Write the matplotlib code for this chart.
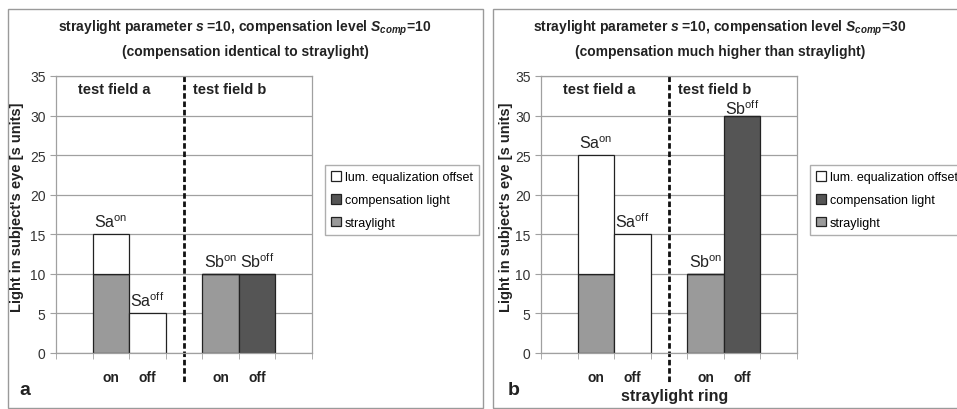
import matplotlib
matplotlib.use("Agg")
import matplotlib.pyplot as plt
from matplotlib.patches import Rectangle, Patch

plt.rcParams["font.family"] = ["Liberation Sans", "DejaVu Sans"]
plt.rcParams["mathtext.fontset"] = "custom"
plt.rcParams["mathtext.it"] = "Liberation Sans:italic:bold"
plt.rcParams["mathtext.rm"] = "Liberation Sans:bold"

# slots: blank, on, off, blank, on, off, blank
slot_labels = ["", "on", "off", "", "on", "off", ""]
bar_slots = [1, 2, 4, 5]
bar_names = ["Sa", "Sa", "Sb", "Sb"]
bar_states = ["on", "off", "on", "off"]

straylight_a = [10, 0, 10, 0]
compensation_a = [0, 0, 0, 10]
offset_a = [5, 5, 0, 0]

straylight_b = [10, 0, 10, 0]
compensation_b = [0, 0, 0, 30]
offset_b = [15, 15, 0, 0]

titles = [
    "straylight parameter $\\mathit{s}$ =10, compensation level $\\mathit{S}_{\\mathit{comp}}$=10\n(compensation identical to straylight)",
    "straylight parameter $\\mathit{s}$ =10, compensation level $\\mathit{S}_{\\mathit{comp}}$=30\n(compensation much higher than straylight)",
]
legend_labels = ["lum. equalization offset", "compensation light", "straylight"]

W, H = 957, 410
c_stray = "#9a9a9a"
c_comp = "#555555"
c_off = "white"
c_edge = "#222222"
c_grid = "#a0a0a0"

fig = plt.figure(figsize=(W / 100, H / 100), dpi=100)
fig.patch.set_facecolor("white")


def fx(px):
    return px / W


def fy(py):
    return 1 - py / H


# panel frames
for x0, x1 in [(8, 483), (493, 960)]:
    fig.patches.append(Rectangle((fx(x0), fy(409)), fx(x1 - x0), (409 - 10) / H,
                                 transform=fig.transFigure, fill=False,
                                 edgecolor="#9a9a9a", linewidth=1.0))

panels = [
    (56, straylight_a, compensation_a, offset_a, titles[0], "a", 245, 17, 325),
    (541, straylight_b, compensation_b, offset_b, titles[1], "b", 720, 506, 810),
]

for i, (left, stray, comp, offs, title, letter, tcx, ylx, legx) in enumerate(panels):
    ax = fig.add_axes([fx(left), fy(354), fx(256), (354 - 77) / H])
    ax.set_xlim(-0.5, 6.5)
    ax.set_ylim(0, 35)
    ax.set_yticks(range(0, 36, 5))
    ax.yaxis.grid(True, color=c_grid, linewidth=0.9)
    ax.set_axisbelow(True)
    for s in ax.spines.values():
        s.set_color(c_grid)
        s.set_linewidth(0.9)

    ax.bar(bar_slots, stray, width=1.0, color=c_stray, edgecolor=c_edge, linewidth=0.9)
    ax.bar(bar_slots, comp, width=1.0, bottom=stray, color=c_comp, edgecolor=c_edge, linewidth=0.9)
    base = [a + b for a, b in zip(stray, comp)]
    ax.bar(bar_slots, offs, width=1.0, bottom=base, color=c_off, edgecolor=c_edge, linewidth=0.9)

    for x, n, st, b, o in zip(bar_slots, bar_names, bar_states, base, offs):
        top = b + o
        # label of a tall bar sits tight so it stays under the field heading
        pad = -1 if top >= 30 else 3
        ax.annotate(n + "$^{\\mathregular{" + st + "}}$", (x, top), xytext=(0, pad),
                    textcoords="offset points", ha="center", va="bottom",
                    fontsize=11.5, color="#222222")

    ax.set_xticks(range(7))
    ax.set_xticklabels(slot_labels, fontsize=10, fontweight="bold")
    ax.set_xticks([k - 0.5 for k in range(8)], minor=True)
    ax.tick_params(axis="x", which="major", length=0, pad=12, labelcolor="#222222")
    ax.tick_params(axis="x", which="minor", length=4, color=c_grid)
    ax.tick_params(axis="y", length=4, color=c_grid, labelsize=10, labelcolor="#333333")

    # separator between test fields
    ax.plot([3, 3], [1.0, -0.112], transform=ax.get_xaxis_transform(), clip_on=False,
            color="#111111", linewidth=2.0, linestyle=(0, (2, 1)))
    ax.text(0.1, 33.3, "test field a", fontsize=10.5, fontweight="bold", va="center", color="#222222")
    ax.text(3.25, 33.3, "test field b", fontsize=10.5, fontweight="bold", va="center", color="#222222")

    fig.text(fx(tcx), fy(39), title, ha="center", va="center", fontsize=10,
             fontweight="bold", linespacing=1.6, color="#222222")
    fig.text(fx(ylx), fy(207), "Light in subject's eye [s units]", rotation=90,
             ha="center", va="center", fontsize=10.5, fontweight="bold", color="#222222")
    fig.text(fx(ylx + 2), fy(391), letter, ha="left", va="center", fontsize=14,
             fontweight="bold", color="#222222")

    handles = [Patch(facecolor=c, edgecolor=c_edge, linewidth=0.9) for c in (c_off, c_comp, c_stray)]
    fig.legend(handles, legend_labels, loc="upper left", bbox_to_anchor=(fx(legx), fy(166)),
               fontsize=9, frameon=True, fancybox=False, edgecolor="#9a9a9a",
               handlelength=0.8, handleheight=0.8, handletextpad=0.3, borderpad=0.5,
               labelspacing=0.85, borderaxespad=0)

fig.text(fx(675), fy(397), "straylight ring", ha="center", va="center", fontsize=11.5,
         fontweight="bold", color="#222222")

fig.savefig("out.png", dpi=100, facecolor="white")
